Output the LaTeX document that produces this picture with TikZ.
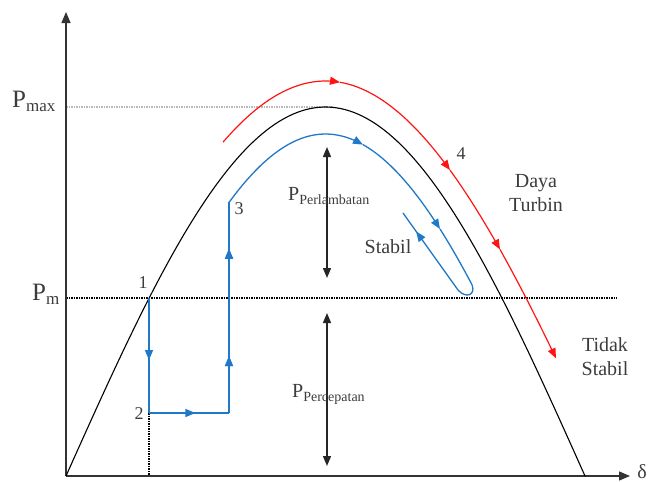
\documentclass[tikz,border=0pt]{standalone}
\usepackage{fontspec}
\setmainfont{Liberation Serif}
\usetikzlibrary{arrows.meta, decorations.markings}
\definecolor{swingblue}{HTML}{1F78C8}
\definecolor{turbred}{HTML}{FF1414}
\definecolor{labelgray}{HTML}{3C3C3C}

\newcommand{\Psub}[3]{{\fontsize{#1}{#1}\selectfont P}\raisebox{-4pt}{\fontsize{#2}{#2}\selectfont #3}}

\begin{document}
\begin{tikzpicture}[
    x=1pt, y=-1pt,
    declare function={pe(\x)=476-369*sin((\x-66)/519*180);
                      bsw(\x)=476-342*sin((\x-90)/471*180);
                      turb(\x)=476-395*sin((\x-40)/571*180);},
    axis/.style={line width=1.4pt, draw=black!80, -{Triangle[length=11pt,width=9pt]}},
    curve/.style={line width=1.1pt, black},
    swing/.style={line width=1.3pt, swingblue},
    turbine/.style={line width=1.2pt, turbred},
    headed/.style={-{Triangle[length=10pt,width=8pt]}},
    guide/.style={line width=1.1pt, dash pattern=on 1.5pt off 1pt},
    span/.style={line width=1.4pt, black!85, {Triangle[length=10pt,width=8pt]}-{Triangle[length=10pt,width=8pt]}},
    lbl/.style={text=labelgray, font=\fontsize{20}{24}\selectfont, align=center, inner sep=0pt},
    num/.style={text=labelgray, font=\fontsize{18}{18}\selectfont, inner sep=0pt},
    psym/.style={text=labelgray, anchor=base west, inner sep=0pt},
    mid arrow/.style={postaction={decorate}, decoration={markings,
        mark=at position #1 with {\arrow{Triangle[length=10pt,width=8pt]}}}}
]
\useasboundingbox (0,0) rectangle (651,482);

% Points
\coordinate (O) at (66,476);
\coordinate (ytop) at (66,12);
\coordinate (xend) at (630,476);
\coordinate (pt1) at (149,298);
\coordinate (pt2) at (149,413);
\coordinate (pt2r) at (229,413);
\coordinate (pt3) at (229,{bsw(229)});
\coordinate (ubot) at (458,290);
\coordinate (stabend) at (403,213);

% Guide lines
\draw[guide, gray!55] (66,107) -- (333,107);
\draw[guide] (66,298) -- (617,298);
\draw[guide] (pt1) -- (pt1 |- O);

% Axes
\draw[axis] (O) -- (ytop);
\draw[axis] (O) -- (xend);

% Power-angle curve
\draw[curve] plot[domain=66:585, samples=120] (\x,{pe(\x)});

% Turbine power path
\foreach \a/\b in {223/340, 340/450, 450/500, 500/556} {
    \draw[turbine, headed] plot[domain=\a:\b, samples=40] (\x,{turb(\x)});
}

% Rotor swing
\draw[swing, mid arrow=0.54] (pt1) -- (pt2);
\draw[swing, mid arrow=0.58] (pt2) -- (pt2r);
\draw[swing, mid arrow=0.27, mid arrow=0.78] (pt2r) -- (pt3);
\draw[swing, headed] plot[domain=229:363, samples=40] (\x,{bsw(\x)});
\draw[swing, headed] plot[domain=363:440, samples=30] (\x,{bsw(\x)});
\draw[swing] plot[domain=440:472, samples=15] (\x,{bsw(\x)})
    .. controls (476,295) and (466,299) .. (ubot);
\draw[swing, mid arrow=0.76] (ubot) -- (stabend);

% Area arrows
\coordinate (dtop) at (327,147);
\coordinate (dmid) at (327,278);
\coordinate (atop) at (327,313);
\coordinate (abot) at (327,466);
\draw[span] (dtop) -- (dmid);
\draw[span] (atop) -- (abot);

% Labels
\node[psym] (pmax) at (12,107) {\Psub{25}{17}{max}};
\node[psym] (pm) at (32,300) {\Psub{25}{17}{m}};
\node[psym] (plamb) at (288,200) {\Psub{20}{14}{Perlambatan}};
\node[psym] (pcep) at (292,397) {\Psub{20}{14}{Percepatan}};
\node[num] (n1) at (143,283) {1};
\node[num] (n2) at (139,414) {2};
\node[num] (n3) at (239,209) {3};
\node[num] (n4) at (461,154) {4};
\node[lbl] (stab) at (388,247) {Stabil};
\node[lbl] (daya) at (536,193) {Daya\\Turbin};
\node[lbl] (tidak) at (605,357) {Tidak\\Stabil};
\node[lbl, font=\fontsize{20}{20}\selectfont] (delta) at (642,472) {δ};

\end{tikzpicture}
\end{document}
